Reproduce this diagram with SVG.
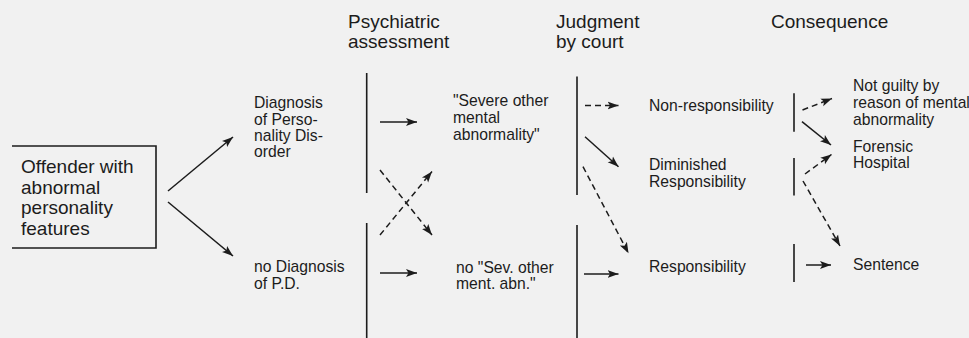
<svg xmlns="http://www.w3.org/2000/svg" width="969" height="338" viewBox="0 0 969 338">
<defs>
<style>
text{font-family:"Liberation Sans",Arial,sans-serif;fill:#1c1c1c}
.h{font-size:19px}
.b{font-size:19px}
.s{font-size:15.7px}
.ln{stroke:#1c1c1c;stroke-width:1.6;fill:none}
.ar{stroke:#1c1c1c;stroke-width:1.5;fill:none;marker-end:url(#ah)}
.da{stroke-dasharray:6 4}
</style>
<marker id="ah" markerUnits="userSpaceOnUse" markerWidth="12" markerHeight="10" viewBox="0 0 12 10" refX="11" refY="5" orient="auto">
<path d="M0,1 L11,5 L0,9 L2.5,5 z" fill="#1c1c1c"/>
</marker>
</defs>
<rect width="969" height="338" fill="#f1f1f1"/>

<g id="headers">
<text class="h" x="348" y="27.5">Psychiatric</text>
<text class="h" x="348" y="47.5">assessment</text>
<text class="h" x="556" y="27.5">Judgment</text>
<text class="h" x="556" y="47.5">by court</text>
<text class="h" x="771" y="27.5">Consequence</text>
</g>

<g id="offender">
<path class="ln" d="M12,146 H156 V248 H12"/>
<text class="b" x="21" y="173">Offender with</text>
<text class="b" x="21" y="193.5">abnormal</text>
<text class="b" x="21" y="214">personality</text>
<text class="b" x="21" y="234.5">features</text>
</g>

<g id="diagnosis-pd">
<text class="s" x="254" y="108">Diagnosis</text>
<text class="s" x="254" y="124.5">of Perso-</text>
<text class="s" x="254" y="141">nality Dis-</text>
<text class="s" x="254" y="157">order</text>
</g>

<g id="no-diagnosis">
<text class="s" x="254" y="272">no Diagnosis</text>
<text class="s" x="254" y="288.5">of P.D.</text>
</g>

<g id="severe">
<text class="s" x="453" y="106">"Severe other</text>
<text class="s" x="453" y="123">mental</text>
<text class="s" x="453" y="140">abnormality"</text>
</g>

<g id="no-severe">
<text class="s" x="456" y="272.5">no "Sev. other</text>
<text class="s" x="456" y="289">ment. abn."</text>
</g>

<g id="non-responsibility">
<text class="s" x="649" y="111">Non-responsibility</text>
</g>
<g id="diminished">
<text class="s" x="649" y="170">Diminished</text>
<text class="s" x="649" y="186.5">Responsibility</text>
</g>
<g id="responsibility">
<text class="s" x="649" y="271.5">Responsibility</text>
</g>

<g id="not-guilty">
<text class="s" x="853" y="91">Not guilty by</text>
<text class="s" x="853" y="108">reason of mental</text>
<text class="s" x="853" y="124.5">abnormality</text>
</g>
<g id="forensic-hospital">
<text class="s" x="853" y="151.5">Forensic</text>
<text class="s" x="853" y="168">Hospital</text>
</g>
<g id="sentence">
<text class="s" x="853" y="269.5">Sentence</text>
</g>

<g id="connectors">
<!-- dividers -->
<path class="ln" d="M366.7,73 V193 M366.7,223 V338"/>
<path class="ln" d="M577,76.5 V195 M577,225 V338"/>
<path class="ln" d="M794,93.3 V131.7 M794,158 V195.5 M794,244 V282"/>
<!-- from offender -->
<line class="ar" x1="168" y1="191" x2="233" y2="137"/>
<line class="ar" x1="168" y1="202" x2="233" y2="256"/>
<!-- psychiatric assessment -->
<line class="ar" x1="380" y1="122" x2="417" y2="122"/>
<line class="ar" x1="380" y1="273" x2="417" y2="273"/>
<line class="ar da" x1="380" y1="170" x2="432" y2="235"/>
<line class="ar da" x1="380" y1="235" x2="432" y2="171.5"/>
<!-- judgment -->
<line class="ar da" x1="585" y1="105.5" x2="618.5" y2="105.5"/>
<line class="ar" x1="585" y1="136.7" x2="618.5" y2="166.7"/>
<line class="ar da" x1="583" y1="166.7" x2="628.5" y2="253.3"/>
<line class="ar" x1="584" y1="274" x2="618.5" y2="274"/>
<!-- consequence -->
<line class="ar da" x1="802.5" y1="110" x2="832" y2="98.5"/>
<line class="ar" x1="802" y1="121.7" x2="831" y2="145"/>
<line class="ar da" x1="805" y1="174" x2="831.5" y2="154.5"/>
<line class="ar da" x1="803" y1="181" x2="840" y2="246"/>
<line class="ar" x1="806" y1="265" x2="831" y2="265"/>
</g>
</svg>
